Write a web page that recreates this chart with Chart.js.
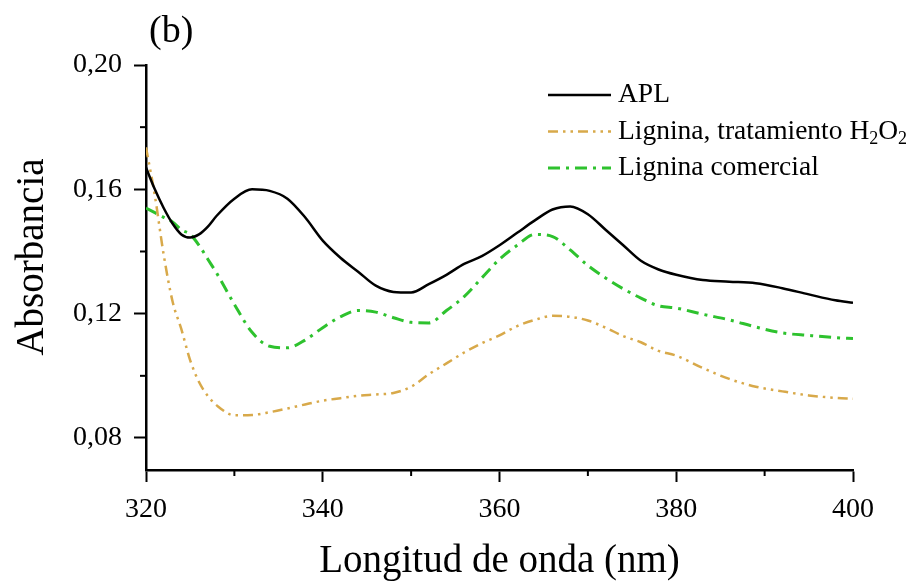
<!DOCTYPE html>
<html>
<head>
<meta charset="utf-8">
<style>
  html, body { margin: 0; padding: 0; background: #fff; }
  #wrap { width: 920px; height: 586px; }
</style>
<script src="https://cdn.jsdelivr.net/npm/chart.js@4.4.1/dist/chart.umd.min.js"></script>
</head>
<body>
<div id="wrap"><canvas id="chart"></canvas></div>
<script>
// wavelength (nm) and absorbance
var wavelength = [320, 321, 322, 323, 324, 325, 326, 327, 328, 330, 332, 334, 336, 338, 340, 342, 344, 346, 348, 350,
                  352, 354, 356, 358, 360, 362, 364, 366, 368, 370, 372, 374, 376, 378, 380, 383, 386, 389, 392, 395, 398, 400];
var apl = [0.167, 0.160, 0.154, 0.149, 0.1455, 0.1445, 0.1455, 0.148, 0.1515, 0.157, 0.160, 0.1595, 0.157, 0.151, 0.1435, 0.138, 0.1335, 0.129, 0.127, 0.1268,
           0.1295, 0.1325, 0.136, 0.1385, 0.142, 0.146, 0.150, 0.1535, 0.1545, 0.152, 0.147, 0.142, 0.137, 0.1342, 0.1325, 0.1308, 0.1303, 0.1298, 0.1282, 0.1262, 0.1243, 0.1235];
var ligninaH2O2 = [0.1735, 0.158, 0.139, 0.124, 0.115, 0.105, 0.098, 0.0935, 0.0905, 0.0873, 0.0874, 0.0883, 0.0895, 0.0908, 0.092, 0.0928, 0.0936, 0.094, 0.0945, 0.0965,
                   0.1005, 0.104, 0.1075, 0.1105, 0.113, 0.116, 0.118, 0.1193, 0.119, 0.1178, 0.1155, 0.1128, 0.1108, 0.108, 0.1065, 0.1025, 0.099, 0.0965, 0.095, 0.0937, 0.0929, 0.0926];
var ligninaComercial = [0.154, 0.1525, 0.151, 0.1495, 0.147, 0.1455, 0.142, 0.1375, 0.133, 0.123, 0.114, 0.1095, 0.109, 0.1115, 0.1155, 0.119, 0.121, 0.1205, 0.1187, 0.1172,
                        0.117, 0.121, 0.1255, 0.1315, 0.1375, 0.142, 0.1455, 0.1448, 0.1405, 0.1355, 0.1315, 0.128, 0.125, 0.1225, 0.1218, 0.1198, 0.118, 0.1157, 0.1138, 0.113, 0.1123, 0.112];

var xTicks = [320, 340, 360, 380, 400];
var xMinorTicks = [330, 350, 370, 390];
var yTicks = [0.08, 0.12, 0.16, 0.20];
var yMinorTicks = [0.10, 0.14, 0.18];

var serif = '"Liberation Serif", "Times New Roman", serif';

function pts(values) {
    return wavelength.map(function (x, i) { return {x: x, y: values[i]}; });
}

// short minor ticks, y title, "(b)" and the legend (with subscripts)
var extras = {
    id: 'extras',
    afterDraw: function (chart) {
        var ctx = chart.ctx;
        var xs = chart.scales.x, ys = chart.scales.y;
        var area = chart.chartArea;
        ctx.save();
        ctx.strokeStyle = '#000';
        ctx.lineWidth = 2;
        xMinorTicks.forEach(function (v) {
            var px = xs.getPixelForValue(v);
            ctx.beginPath();
            ctx.moveTo(px, area.bottom);
            ctx.lineTo(px, area.bottom + 6);
            ctx.stroke();
        });
        yMinorTicks.forEach(function (v) {
            var py = ys.getPixelForValue(v);
            ctx.beginPath();
            ctx.moveTo(area.left, py);
            ctx.lineTo(area.left - 6, py);
            ctx.stroke();
        });

        ctx.fillStyle = '#000';
        ctx.font = '39px ' + serif;
        ctx.save();
        ctx.translate(33, 257);
        ctx.rotate(-Math.PI / 2);
        ctx.textAlign = 'center';
        ctx.textBaseline = 'middle';
        ctx.fillText('Absorbancia', 0, 0);
        ctx.restore();

        ctx.font = '38px ' + serif;
        ctx.textBaseline = 'alphabetic';
        ctx.fillText('(b)', 149, 42);

        var lx = 548, ly = 95;
        chart.data.datasets.forEach(function (ds, i) {
            var y = ly + i * 36.5;
            ctx.strokeStyle = ds.borderColor;
            ctx.lineWidth = ds.borderWidth;
            ctx.setLineDash(ds.borderDash || []);
            ctx.beginPath();
            ctx.moveTo(lx, y);
            ctx.lineTo(lx + 63, y);
            ctx.stroke();
            ctx.setLineDash([]);
            var tx = lx + 70;
            var txt = ds.label;
            ctx.fillStyle = '#000';
            ctx.textBaseline = 'middle';
            for (var k = 0; k < txt.length; k++) {
                var ch = txt[k];
                var sub = /\d/.test(ch) && k > 0 && /[A-Z]/.test(txt[k - 1]);
                ctx.font = (sub ? '18px ' : '27.5px ') + serif;
                ctx.fillText(ch, tx, sub ? y + 8 : y);
                tx += ctx.measureText(ch).width;
            }
        });
        ctx.restore();
    }
};

var config = {
    type: 'line',
    data: {
        datasets: [{
            label: 'APL',
            data: pts(apl),
            borderColor: '#000000',
            borderWidth: 2.5
        }, {
            label: 'Lignina, tratamiento H2O2',
            data: pts(ligninaH2O2),
            borderColor: '#d8a94a',
            borderWidth: 2.5,
            borderDash: [10, 5, 2.5, 5, 2.5, 5]
        }, {
            label: 'Lignina comercial',
            data: pts(ligninaComercial),
            borderColor: '#2ec22e',
            borderWidth: 3,
            borderDash: [12, 6, 3, 6]
        }]
    },
    options: {
        responsive: true,
        maintainAspectRatio: false,
        animation: false,
        cubicInterpolationMode: 'monotone',
        elements: { point: { radius: 0 } },
        layout: { padding: { top: 65, right: 67, left: 0, bottom: 0 } },
        plugins: {
            legend: { display: false },
            tooltip: { enabled: false }
        },
        scales: {
            x: {
                type: 'linear',
                min: 320,
                max: 400,
                afterBuildTicks: function (axis) {
                    axis.ticks = xTicks.map(function (v) { return {value: v}; });
                },
                afterFit: function (axis) { axis.height = 116; },
                ticks: {
                    color: '#000',
                    padding: 11,
                    maxRotation: 0,
                    font: { family: serif, size: 28 }
                },
                grid: {
                    drawOnChartArea: false,
                    drawTicks: true,
                    tickLength: 12,
                    tickWidth: 2,
                    tickColor: '#000'
                },
                border: { color: '#000', width: 2.5 },
                title: {
                    display: true,
                    text: 'Longitud de onda (nm)',
                    color: '#000',
                    font: { family: serif, size: 39 },
                    padding: { top: 4, bottom: 1 }
                }
            },
            y: {
                type: 'linear',
                min: 0.0697,
                max: 0.20,
                afterBuildTicks: function (axis) {
                    axis.ticks = yTicks.map(function (v) { return {value: v}; });
                },
                afterFit: function (axis) { axis.width = 146; },
                ticks: {
                    color: '#000',
                    padding: 12,
                    font: { family: serif, size: 28 },
                    callback: function (v) { return v.toFixed(2).replace('.', ','); }
                },
                grid: {
                    drawOnChartArea: false,
                    drawTicks: true,
                    tickLength: 12,
                    tickWidth: 2,
                    tickColor: '#000'
                },
                border: { color: '#000', width: 2.5 }
            }
        }
    },
    plugins: [extras]
};

window.onload = function () {
    window.myChart = new Chart(document.getElementById('chart'), config);
};
</script>
</body>
</html>
